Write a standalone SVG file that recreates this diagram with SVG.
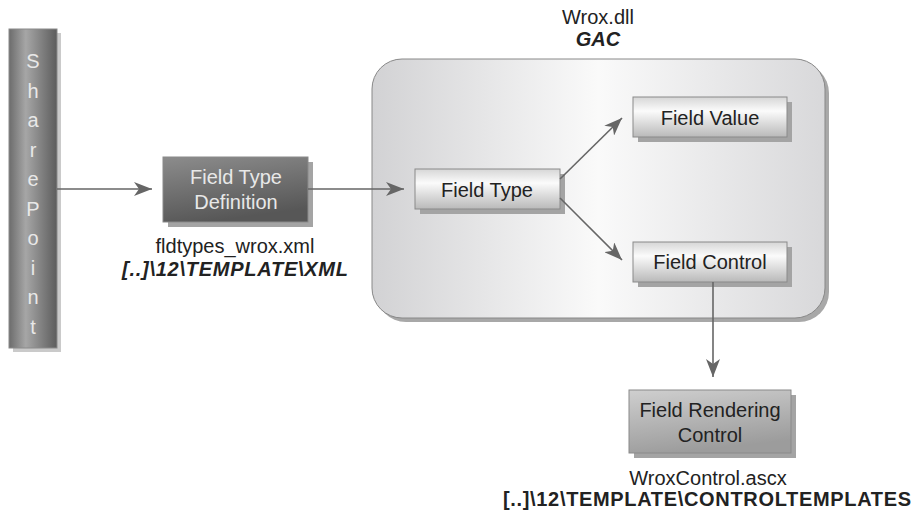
<svg xmlns="http://www.w3.org/2000/svg" width="913" height="515" viewBox="0 0 913 515">
<defs>
  <linearGradient id="gBar" x1="0" y1="0" x2="1" y2="0">
    <stop offset="0" stop-color="#6c6c6c"/>
    <stop offset="0.35" stop-color="#a6a6a6"/>
    <stop offset="1" stop-color="#5c5c5c"/>
  </linearGradient>
  <linearGradient id="gDark" x1="0" y1="0" x2="0.3" y2="1">
    <stop offset="0" stop-color="#8c8c8c"/>
    <stop offset="1" stop-color="#575757"/>
  </linearGradient>
  <linearGradient id="gMid" x1="0" y1="0" x2="0.3" y2="1">
    <stop offset="0" stop-color="#cfcfcf"/>
    <stop offset="1" stop-color="#9c9c9c"/>
  </linearGradient>
  <linearGradient id="gLight" x1="0" y1="0" x2="0" y2="1">
    <stop offset="0" stop-color="#d6d6d6"/>
    <stop offset="0.35" stop-color="#fbfbfb"/>
    <stop offset="1" stop-color="#b9b9b9"/>
  </linearGradient>
  <linearGradient id="gGac" x1="0" y1="0" x2="1" y2="0">
    <stop offset="0" stop-color="#d2d2d4"/>
    <stop offset="0.5" stop-color="#fafafa"/>
    <stop offset="1" stop-color="#d8d8da"/>
  </linearGradient>
  <marker id="arr" markerUnits="userSpaceOnUse" markerWidth="18" markerHeight="14" refX="18" refY="7" orient="auto">
    <path d="M0,0 L18,7 L0,14 L5,7 z" fill="#666"/>
  </marker>
  <style>
    text { font-family: "Liberation Sans", Arial, sans-serif; font-size: 20px; fill: #222; }
    .c { text-anchor: middle; }
    .b { font-weight: bold; }
    .bi { font-weight: bold; font-style: italic; }
    .lt { fill: #e8e8e8; }
    .sh { fill: #a4a4a4; }
    .box { stroke: #8a8a8a; stroke-width: 1; }
    .con { stroke: #666; stroke-width: 1.6; fill: none; marker-end: url(#arr); }
  </style>
</defs>

<g id="gac">
  <rect x="376" y="63" width="453" height="259" rx="30" fill="#a8a8a8"/>
  <rect x="372" y="59" width="453" height="259" rx="30" fill="url(#gGac)" stroke="#888" stroke-width="1"/>
  <text class="c" x="598" y="24">Wrox.dll</text>
  <text class="c bi" x="598" y="46">GAC</text>
</g>

<g id="sharepoint">
  <rect x="13" y="33" width="48" height="319" fill="#cacaca"/>
  <rect x="9" y="29" width="48" height="319" fill="url(#gBar)" stroke="#8a8a8a" stroke-width="1"/>
  <text class="c lt" x="33" y="68">S</text>
  <text class="c lt" x="33" y="98">h</text>
  <text class="c lt" x="33" y="127">a</text>
  <text class="c lt" x="33" y="157">r</text>
  <text class="c lt" x="33" y="186">e</text>
  <text class="c lt" x="33" y="216">P</text>
  <text class="c lt" x="33" y="245">o</text>
  <text class="c lt" x="33" y="275">i</text>
  <text class="c lt" x="33" y="304">n</text>
  <text class="c lt" x="33" y="334">t</text>
</g>

<g id="fieldTypeDefinition">
  <rect class="sh" x="168" y="162" width="145" height="65"/>
  <rect class="box" x="163" y="157" width="145" height="65" fill="url(#gDark)"/>
  <text class="c lt" x="236" y="184">Field Type</text>
  <text class="c lt" x="236" y="209">Definition</text>
  <text class="c" x="235" y="253">fldtypes_wrox.xml</text>
  <text class="c bi" x="235" y="276" textLength="226" lengthAdjust="spacing">[..]\12\TEMPLATE\XML</text>
</g>

<g id="fieldType">
  <rect class="sh" x="420" y="174" width="145" height="40"/>
  <rect class="box" x="415" y="169" width="145" height="40" fill="url(#gLight)"/>
  <text class="c" x="487" y="197">Field Type</text>
</g>

<g id="fieldValue">
  <rect class="sh" x="638" y="102" width="154" height="40"/>
  <rect class="box" x="633" y="97" width="154" height="40" fill="url(#gLight)"/>
  <text class="c" x="710" y="125">Field Value</text>
</g>

<g id="fieldControl">
  <rect class="sh" x="638" y="247" width="154" height="40"/>
  <rect class="box" x="633" y="242" width="154" height="40" fill="url(#gLight)"/>
  <text class="c" x="710" y="269">Field Control</text>
</g>

<g id="fieldRenderingControl">
  <rect class="sh" x="634" y="395" width="162" height="63"/>
  <rect class="box" x="629" y="390" width="162" height="63" fill="url(#gMid)"/>
  <text class="c" x="710" y="417">Field Rendering</text>
  <text class="c" x="710" y="442">Control</text>
  <text class="c" x="708" y="485">WroxControl.ascx</text>
  <text class="c b" x="707" y="506" textLength="408" lengthAdjust="spacing">[..]\12\TEMPLATE\CONTROLTEMPLATES</text>
</g>

<g id="connectors">
  <line class="con" x1="57" y1="189" x2="152" y2="189"/>
  <line class="con" x1="308" y1="189" x2="404" y2="189"/>
  <line class="con" x1="560" y1="179" x2="622" y2="118"/>
  <line class="con" x1="560" y1="198" x2="622" y2="260"/>
  <line class="con" x1="713" y1="282" x2="713" y2="377"/>
</g>
</svg>
